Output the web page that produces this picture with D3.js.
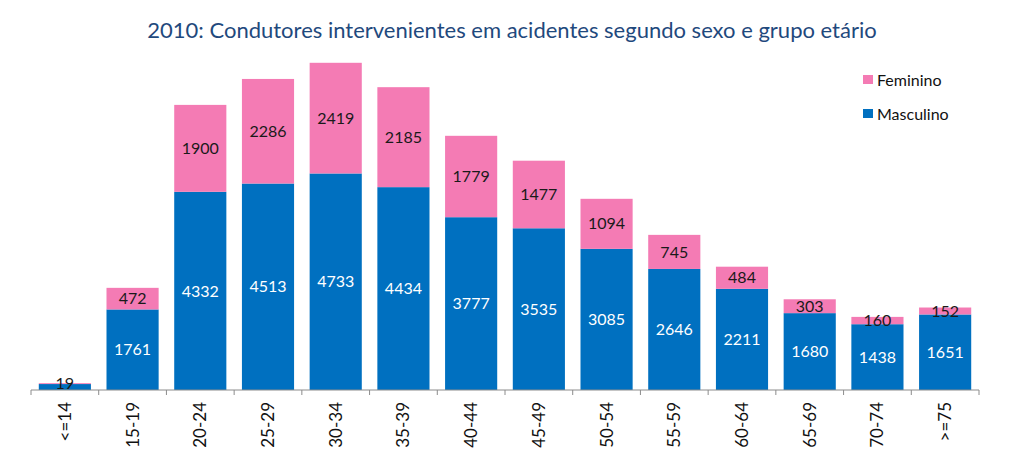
<!DOCTYPE html>
<html><head><meta charset="utf-8">
<script src="https://cdn.jsdelivr.net/npm/d3@7"></script>
<style>body{margin:0;background:#fff;} svg{display:block;}</style>
</head><body><svg id="c" width="1024" height="469"></svg>
<script>
const categories = ["<=14","15-19","20-24","25-29","30-34","35-39","40-44","45-49","50-54","55-59","60-64","65-69","70-74",">=75"];
const masculino = [130,1761,4332,4513,4733,4434,3777,3535,3085,2646,2211,1680,1438,1651];
const feminino = [19,472,1900,2286,2419,2185,1779,1477,1094,745,484,303,160,152];
const seriesNames = ["Masculino","Feminino"];
const colors = {Masculino:"#0070C0", Feminino:"#F47BB4"};
const title = "2010: Condutores intervenientes em acidentes segundo sexo e grupo etário";

const svg = d3.select("#c");
const font = "Lato, 'Open Sans', sans-serif";
const x = d3.scaleBand().domain(categories).range([31,979]).paddingInner(0.23).paddingOuter(0.115);
const y = d3.scaleLinear().domain([0,8000]).range([390,24]);

const data = categories.map((c,i)=>({cat:c, Masculino:masculino[i], Feminino:feminino[i]}));
const stack = d3.stack().keys(seriesNames)(data);

const g = svg.append("g");
stack.forEach(s=>{
  g.selectAll(null).data(s).enter().append("rect")
    .attr("x",d=>x(d.data.cat)).attr("width",x.bandwidth())
    .attr("y",d=>y(d[1])).attr("height",d=>y(d[0])-y(d[1]))
    .attr("fill",colors[s.key]);
});
// labels
stack.forEach(s=>{
  g.selectAll(null).data(s.filter(d=>s.key==="Feminino" || d.data.Masculino>500)).enter().append("text")
    .attr("x",d=>x(d.data.cat)+x.bandwidth()/2)
    .attr("y",d=>(y(d[0])+y(d[1]))/2)
    .attr("dy","0.35em").attr("text-anchor","middle")
    .attr("font-family",font).attr("font-size",16)
    .attr("fill",s.key==="Masculino"?"#ffffff":"#1a1a1a")
    .text(d=>d.data[s.key]);
});

// axis
const ax = svg.append("g").attr("transform","translate(0,390)");
ax.append("line").attr("x1",31).attr("x2",979).attr("stroke","#8c8c8c").attr("stroke-width",1);
const bounds = d3.range(categories.length+1).map(i=>31+i*x.step());
ax.selectAll(null).data(bounds).enter().append("line")
  .attr("x1",d=>d).attr("x2",d=>d).attr("y1",0).attr("y2",5).attr("stroke","#8c8c8c");
ax.selectAll(null).data(categories).enter().append("text")
  .attr("transform",d=>`translate(${x(d)+x.bandwidth()/2+6},${12}) rotate(-90)`)
  .attr("text-anchor","end").attr("font-family",font).attr("font-size",17).attr("fill","#111")
  .text(d=>d);

// title
svg.append("text").attr("x",512).attr("y",38).attr("text-anchor","middle")
  .attr("font-family",font).attr("font-size",22).attr("fill","#1F497D").text(title);

// legend
const legendItems = ["Feminino","Masculino"];
const lg = svg.append("g");
legendItems.forEach((k,i)=>{
  const yy = 80 + i*34;
  lg.append("rect").attr("x",863).attr("y",yy-5).attr("width",10).attr("height",9).attr("fill",colors[k]);
  lg.append("text").attr("x",877).attr("y",yy).attr("dy","0.35em").attr("font-family",font)
    .attr("font-size",16).attr("fill","#111").text(k);
});
</script></body></html>
